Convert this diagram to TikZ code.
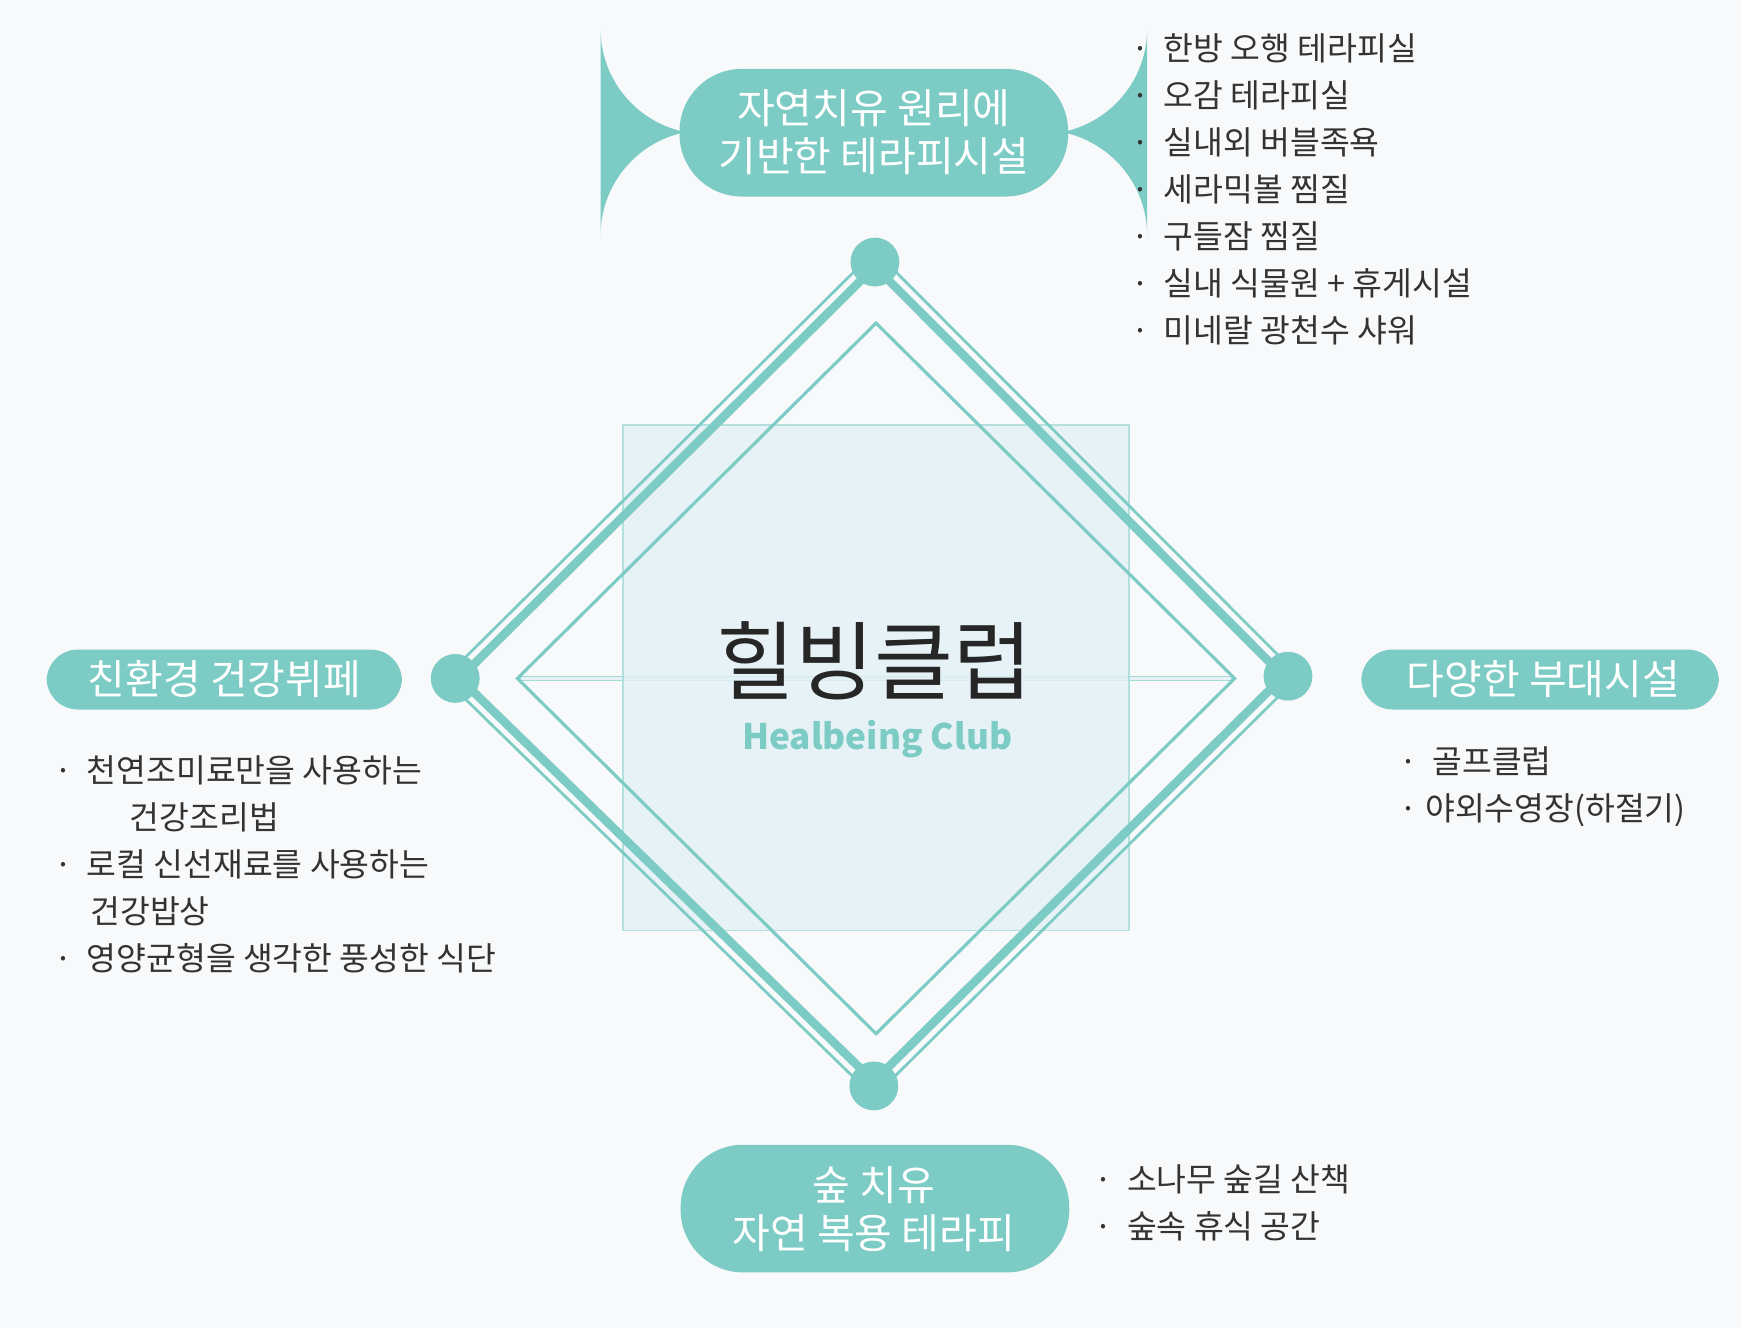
\documentclass[tikz,border=0pt]{standalone}
\usepackage{fontspec}
\setmainfont{Noto Sans CJK KR}
\newfontfamily\kr{Noto Sans CJK KR}
\definecolor{teal1}{HTML}{7CCBC5}
\definecolor{bgc}{HTML}{F8F9FA}
\definecolor{sq}{HTML}{E2F1F4}
\definecolor{txt}{HTML}{333333}
\tikzset{
 pill/.style={fill=teal1,rounded corners=27pt,text=white,align=center,font=\fontsize{10.5}{12.5}\selectfont,inner sep=0pt},
 dot/.style={circle,fill=teal1,minimum size=12.5pt,inner sep=0pt},
 lst/.style={anchor=north west,align=left,text=txt,font=\fontsize{8.3}{12}\selectfont,inner sep=0pt},
}
\begin{document}
\begin{tikzpicture}[x=0.01cm,y=-0.01cm]
\useasboundingbox (0,0) rectangle (1568,1196);
\fill[bgc] (0,0) rectangle (1568,1196);
\node[draw=teal1!70,fill=sq,fill opacity=0.8,minimum width=456\pgflinewidth,inner sep=0pt] (sqr) at (789,611) {};
\fill[sq,opacity=0.8,draw=teal1!70,fill opacity=0.8] (561,383) rectangle (1017,838);
% inner diamond
\draw[teal1,line width=0.8pt] (789,291) -- (1112,611) -- (789,931) -- (466,611) -- cycle;
% outer diamonds
\draw[teal1,line width=0.7pt] (788,226) -- (1170,609) -- (787,988) -- (400,611) -- cycle;
\draw[teal1,line width=2.2pt] (788,240) -- (1156,609) -- (787,974) -- (414,611) -- cycle;
\node[dot] (t) at (788,236) {};
\node[dot] (l) at (410,611) {};
\node[dot] (r) at (1160,609) {};
\node[dot] (b) at (787,978) {};
% pills
\node[pill,minimum width=350\pgflinewidth] (pt) at (787,119) {};
\fill[teal1,rounded corners=16pt] (612,62) rectangle (962,177);
\node[text=white,align=center,font=\fontsize{10.5}{12.5}\selectfont] (ptt) at (787,119) {자연치유 원리에\\기반한 테라피시설};
\fill[teal1,rounded corners=8pt] (42,585) rectangle (362,639);
\node[text=white,font=\fontsize{10.5}{12.5}\selectfont] (pl) at (202,612) {친환경 건강뷔페};
\fill[teal1,rounded corners=8pt] (1226,585) rectangle (1548,639);
\node[text=white,font=\fontsize{10.5}{12.5}\selectfont] (pr) at (1390,612) {다양한 부대시설};
\fill[teal1,rounded corners=16pt] (613,1031) rectangle (963,1146);
\node[text=white,align=center,font=\fontsize{10.5}{12.5}\selectfont] (pb) at (787,1089) {숲 치유\\자연 복용 테라피};
% center
\node[text=black!85,font=\fontsize{22}{24}\selectfont] (title) at (788,595) {힐빙클럽};
\node[text=teal1,font=\fontsize{9}{10}\selectfont\bfseries] (sub) at (790,666) {Healbeing Club};
% lists
\node[lst] (lt) at (1018,30) {·\ \ 한방 오행 테라피실\\·\ \ 오감 테라피실\\·\ \ 실내외 버블족욕\\·\ \ 세라믹볼 찜질\\·\ \ 구들잠 찜질\\·\ \ 실내 식물원 + 휴게시설\\·\ \ 미네랄 광천수 샤워};
\node[lst] (ll) at (48,680) {·\ \ 천연조미료만을 사용하는\\\hspace*{30\pgflinewidth}\ \ \ \ 건강조리법\\·\ \ 로컬 신선재료를 사용하는\\\ \ \ \ \ 건강밥상\\·\ \ 영양균형을 생각한 풍성한 식단};
\node[lst] (lr) at (1260,672) {·\ \ 골프클럽\\·\ 야외수영장(하절기)};
\node[lst] (lb) at (985,1048) {·\ \ 소나무 숲길 산책\\·\ \ 숲속 휴식 공간};
\end{tikzpicture}
\end{document}
